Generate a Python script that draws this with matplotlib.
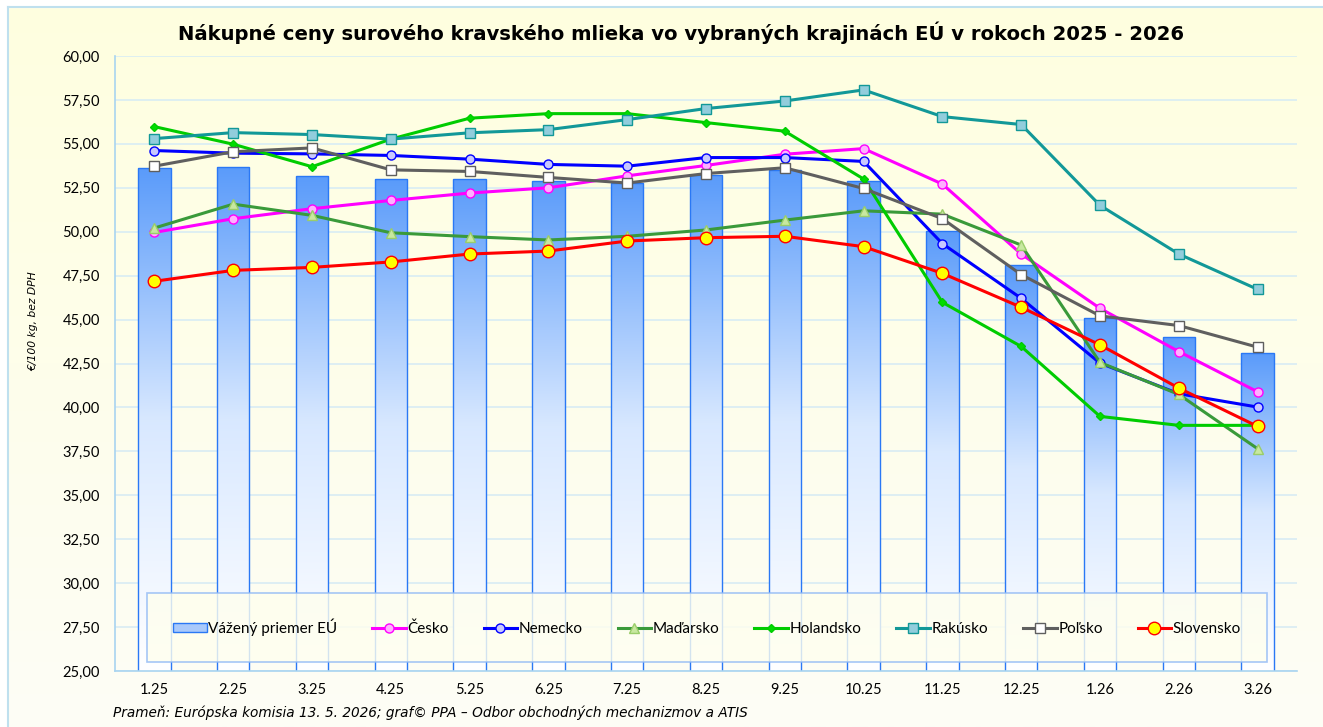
import numpy as np
import matplotlib
matplotlib.use("Agg")
import matplotlib.pyplot as plt
from matplotlib.colors import LinearSegmentedColormap
from matplotlib.patches import Rectangle
from matplotlib.ticker import FuncFormatter, MultipleLocator

plt.rcParams['font.family'] = ['Lato', 'DejaVu Sans']

months = ["1.25", "2.25", "3.25", "4.25", "5.25", "6.25", "7.25", "8.25",
          "9.25", "10.25", "11.25", "12.25", "1.26", "2.26", "3.26"]

eu_avg = [53.64, 53.70, 53.18, 53.00, 53.00, 52.90, 52.80, 53.24,
          53.52, 52.90, 50.06, 48.10, 45.10, 43.98, 43.07]
cesko = [49.96, 50.74, 51.31, 51.78, 52.20, 52.50, 53.18, 53.77,
         54.41, 54.73, 52.71, 48.73, 45.64, 43.18, 40.89]
nemecko = [54.62, 54.47, 54.43, 54.34, 54.13, 53.83, 53.73, 54.22,
           54.22, 54.00, 49.32, 46.21, 42.52, 40.78, 40.02]
madarsko = [50.21, 51.57, 50.93, 49.94, 49.72, 49.53, 49.74, 50.10,
            50.66, 51.19, 51.00, 49.24, 42.56, 40.74, 37.65]
holandsko = [55.98, 54.98, 53.70, 55.27, 56.46, 56.72, 56.72, 56.21,
             55.72, 53.00, 45.98, 43.47, 39.49, 38.98, 38.98]
rakusko = [55.30, 55.64, 55.53, 55.27, 55.63, 55.81, 56.38, 57.01,
           57.44, 58.07, 56.55, 56.10, 51.50, 48.73, 46.72]
polsko = [53.73, 54.55, 54.77, 53.52, 53.43, 53.09, 52.77, 53.31,
          53.64, 52.46, 50.74, 47.56, 45.21, 44.66, 43.43]
slovensko = [47.18, 47.80, 47.97, 48.28, 48.73, 48.90, 49.47, 49.66,
             49.74, 49.15, 47.63, 45.70, 43.56, 41.10, 38.92]

W, H = 1323, 727
fig = plt.figure(figsize=(W / 100, H / 100), dpi=100)

# background gradient
bg = fig.add_axes([0, 0, 1, 1], zorder=-10)
bg_cmap = LinearSegmentedColormap.from_list("bg", ["#FFFFDF", "#FDFDF6"])
bg.imshow(np.linspace(0, 1, 256).reshape(-1, 1), aspect="auto", cmap=bg_cmap,
          extent=[0, 1, 0, 1], origin="upper")
bg.set_xlim(0, 1); bg.set_ylim(0, 1)
bg.axis("off")
bg.add_patch(Rectangle((0, 1 - 7 / H), 1, 7 / H, color="white", zorder=2))
bg.add_patch(Rectangle((0, 0), 8 / W, 1, color="white", zorder=2))
bg.plot([8 / W, 8 / W], [0, 1 - 7 / H], color="#BFE0EE", lw=1.5, zorder=3)
bg.plot([8 / W, 1], [1 - 7 / H, 1 - 7 / H], color="#BFE0EE", lw=1.5, zorder=3)

left, right, top, bottom = 115, 1297, 56, 671
ax = fig.add_axes([left / W, 1 - bottom / H, (right - left) / W, (bottom - top) / H])
ax.set_facecolor("none")

x = np.arange(len(months))

bars = ax.bar(x, eu_avg, width=0.41, bottom=0, color="none",
              edgecolor="#2A78F5", linewidth=1.0, zorder=2)
bar_cmap = LinearSegmentedColormap.from_list("bar", ["#FFFFFF", "#D8E8FF", "#5A9BFA"])
grad = np.linspace(0, 1, 256).reshape(-1, 1)
for b in bars:
    x0 = b.get_x()
    w = b.get_width()
    h = b.get_height()
    im = ax.imshow(grad, aspect="auto", cmap=bar_cmap, origin="lower",
                   extent=[x0, x0 + w, 25, h], zorder=1.5, interpolation="bicubic")
    im.set_clip_path(b)
ax.set_xlim(-0.5, len(months) - 0.5)
ax.set_ylim(25, 60)

series = [
    ("Česko", cesko, dict(color="#FF00FF", marker="o", markersize=6.5,
                          markerfacecolor="#FFB0FF", markeredgecolor="#FF00FF")),
    ("Nemecko", nemecko, dict(color="#0000FF", marker="o", markersize=6.5,
                              markerfacecolor="#C8C8FF", markeredgecolor="#0000FF")),
    ("Maďarsko", madarsko, dict(color="#3A9A3A", marker="^", markersize=7,
                                markerfacecolor="#C8E8A0", markeredgecolor="#9ACD6A")),
    ("Holandsko", holandsko, dict(color="#00CC00", marker="D", markersize=4.5,
                                  markerfacecolor="#00DD00", markeredgecolor="#00CC00")),
    ("Rakúsko", rakusko, dict(color="#129898", marker="s", markersize=6.5,
                              markerfacecolor="#92CDDC", markeredgecolor="#129898")),
    ("Poľsko", polsko, dict(color="#5F5F5F", marker="s", markersize=6.5,
                            markerfacecolor="#FFFFFF", markeredgecolor="#5F5F5F")),
    ("Slovensko", slovensko, dict(color="#FF0000", marker="o", markersize=9,
                                  markerfacecolor="#FFFF00", markeredgecolor="#FF0000")),
]
handles = [bars]
labels = ["Vážený priemer EÚ"]
for name, vals, st in series:
    ln, = ax.plot(x, vals, lw=2.2, zorder=3, markeredgewidth=1.0, **st)
    handles.append(ln)
    labels.append(name)

ax.yaxis.set_major_locator(MultipleLocator(2.5))
ax.yaxis.set_major_formatter(FuncFormatter(lambda v, p: f"{v:.2f}".replace(".", ",")))
ax.set_xticks(x)
ax.set_xticklabels(months)
ax.tick_params(axis="both", length=0, labelsize=10.5, colors="#000000")
ax.tick_params(axis="y", pad=11)
ax.tick_params(axis="x", pad=9)
ax.grid(axis="y", color="#D8ECF4", lw=1.2, zorder=0)
ax.set_axisbelow(True)
for s in ["top", "right"]:
    ax.spines[s].set_visible(False)
for s in ["left", "bottom"]:
    ax.spines[s].set_color("#A8D4F0")
    ax.spines[s].set_linewidth(1.2)

leg = ax.legend(handles, labels, loc="lower left",
                bbox_to_anchor=((147 - left) / (right - left), (bottom - 662) / (bottom - top),
                                (1267 - 147) / (right - left), (662 - 592) / (bottom - top)),
                mode="expand", ncol=8, frameon=True, fontsize=11,
                handlelength=2.2, handletextpad=0.1, borderaxespad=0,
                handleheight=0.6, fancybox=False, borderpad=1.7)
leg.get_frame().set_facecolor("#FFFFEE")
leg.get_frame().set_edgecolor("#8FB8F5")
leg.get_frame().set_linewidth(1.2)
leg.set_zorder(5)
bh = leg.legend_handles[0]
bh.set_facecolor("#A9C9FB")
bh.set_edgecolor("#2A78F5")

title = fig.text(681 / W, 1 - 33 / H,
                 "Nákupné ceny surového kravského mlieka vo vybraných krajinách EÚ v rokoch 2025 - 2026",
                 ha="center", va="center", fontsize=14, fontweight="bold",
                 family=["DejaVu Sans"])
ylab = fig.text(33 / W, 1 - 321 / H, "€/100 kg, bez DPH", rotation=90, ha="center", va="center",
                fontsize=8.5, style="italic", family=["DejaVu Sans"])
src = fig.text(113 / W, 1 - 713 / H,
               "Prameň: Európska komisia 13. 5. 2026; graf© PPA – Odbor obchodných mechanizmov a ATIS",
               ha="left", va="center", fontsize=10, style="italic", family=["DejaVu Sans"])

# fit text sizes to target pixel lengths
fig.canvas.draw()
r = fig.canvas.get_renderer()
for t, target, vertical in [(title, 1012, False), (src, 635, False), (ylab, 100, True)]:
    bb = t.get_window_extent(r)
    cur = bb.height if vertical else bb.width
    t.set_fontsize(t.get_fontsize() * target / cur)

fig.savefig("out.png", dpi=100)
